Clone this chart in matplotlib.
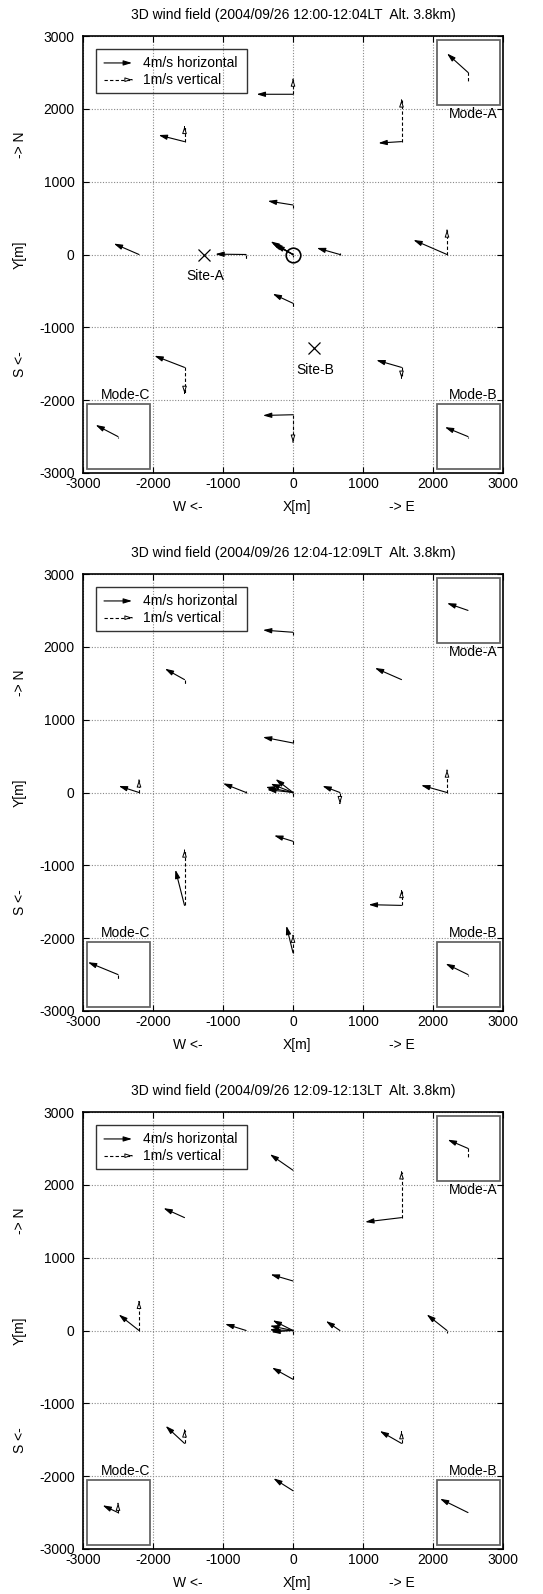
import matplotlib
matplotlib.use('Agg')
import matplotlib.pyplot as plt
from matplotlib.patches import Rectangle
import numpy as np

plt.rcParams['font.family'] = ['Liberation Sans', 'DejaVu Sans']
plt.rcParams['axes.unicode_minus'] = False

# ── Data ──────────────────────────────────────────────────────────────────────
TITLES = [
    '3D wind field (2004/09/26 12:00-12:04LT  Alt. 3.8km)',
    '3D wind field (2004/09/26 12:04-12:09LT  Alt. 3.8km)',
    '3D wind field (2004/09/26 12:09-12:13LT  Alt. 3.8km)',
]

# observation points [m] (centre point carries several arrows)
STN_X = [0, -1550, 1550, 0, -2200, -670, 0, 0, 0, 0, 670, 2200, 0, -1550, 1550, 0]
STN_Y = [2200, 1550, 1550, 680, 0, 0, 0, 0, 0, 0, 0, 0, -670, -1550, -1550, -2200]

# wind components [m/s] for each period
U1 = [-5.2, -3.7, -3.3, -3.6, -3.6, -4.4, -3.2, -3.0, -2.8, -2.5, -3.3, -4.8, -2.9, -4.3, -3.6, -4.3]
V1 = [0.0, 0.9, -0.2, 0.55, 1.5, 0.05, 1.8, 1.6, 1.5, 1.3, 0.9, 2.0, 1.3, 1.6, 1.0, -0.1]
W1 = [0.52, 0.52, 1.43, -0.11, 0.0, -0.14, -0.1, 0.0, 0.0, 0.0, 0.05, 0.84, -0.16, -0.89, -0.37, -0.94]

U2 = [-4.3, -2.8, -3.8, -4.3, -2.9, -3.3, -2.5, -3.2, -3.9, -3.7, -2.5, -3.7, -2.7, -1.3, -4.7, -0.95]
V2 = [0.3, 1.5, 1.6, 0.8, 0.9, 1.25, 1.85, 1.2, 0.75, 0.4, 0.9, 1.0, 0.8, 4.9, 0.1, 3.7]
W2 = [-0.1, -0.17, 0.0, 0.16, 0.43, 0.05, -0.16, 0.0, 0.0, 0.0, -0.38, 0.77, -0.15, 1.9, 0.51, 0.6]

U3 = [-3.3, -3.0, -5.2, -3.2, -2.9, -3.0, -2.9, -3.3, -3.35, -3.1, -2.0, -2.9, -3.0, -2.7, -3.1, -2.8]
V3 = [2.2, 1.3, -0.6, 0.9, 2.2, 0.9, 1.4, 0.65, 0.1, -0.2, 1.3, 2.2, 1.6, 2.4, 1.7, 1.7]
W3 = [0.0, 0.0, 1.57, 0.0, 1.0, 0.0, -0.15, 0.0, 0.0, 0.0, 0.0, -0.1, 0.2, 0.46, 0.4, 0.0]

# mode insets
MODE_NAMES = ['Mode-A', 'Mode-B', 'Mode-C']
MODE_X = [2500, 2500, -2500]
MODE_Y = [2500, -2500, -2500]
MODE_U = [[-3.0, -3.3, -3.2], [-3.0, -3.2, -4.3], [-2.9, -4.0, -2.2]]
MODE_V = [[2.6, 1.3, 1.6], [1.0, 1.5, 1.7], [1.2, 1.9, 1.0]]
MODE_W = [[-0.28, -0.04, -0.05], [0.0, -0.05, -0.15], [-0.29, 0.0, 0.32]]

SITE_NAMES = ['Site-A', 'Site-B']
SITE_X = [-1270, 300]
SITE_Y = [0, -1290]

PANELS = [(U1, V1, W1), (U2, V2, W2), (U3, V3, W3)]

H_SCALE = 100.0   # m of plot per m/s (4 m/s -> 400 m)
V_SCALE = 400.0   # m of plot per m/s (1 m/s -> 400 m)

# ── Helpers ───────────────────────────────────────────────────────────────────
HPROPS = dict(arrowstyle='-|>,head_length=0.5,head_width=0.15', color='black',
              lw=0.8, shrinkA=0, shrinkB=0)
VHEAD = dict(arrowstyle='-|>,head_length=0.4,head_width=0.13', ec='black',
             fc='white', lw=0.7, shrinkA=0, shrinkB=0)
DASH = (0, (3, 2))


def h_arrow(ax, x0, y0, x1, y1):
    ax.annotate('', xy=(x1, y1), xytext=(x0, y0), arrowprops=HPROPS)


def v_arrow(ax, x0, y0, x1, y1, head=True):
    ax.plot([x0, x1], [y0, y1], color='black', lw=0.8, ls=DASH)
    if head:
        d = np.array([x1 - x0, y1 - y0], dtype=float)
        d = d / np.hypot(*d)
        ax.annotate('', xy=(x1, y1), xytext=(x1 - d[0], y1 - d[1]), arrowprops=VHEAD)


def wind(ax, x0, y0, u, v, w):
    h_arrow(ax, x0, y0, x0 + u * H_SCALE, y0 + v * H_SCALE)
    if w != 0:
        dz = w * V_SCALE
        v_arrow(ax, x0, y0, x0, y0 + dz, head=abs(dz) > 125)


# ── Plot ──────────────────────────────────────────────────────────────────────
fig = plt.figure(figsize=(5.43, 15.94), dpi=100)
bottoms = [1 - 473 / 1594, 1 - 1011 / 1594, 1 - 1549 / 1594]

for p, (U, V, W) in enumerate(PANELS):
    ax = fig.add_axes([83 / 543, bottoms[p], 420 / 543, 437 / 1594])
    ax.set_xlim(-3000, 3000)
    ax.set_ylim(-3000, 3000)
    ax.set_xticks(np.arange(-3000, 3001, 1000))
    ax.set_yticks(np.arange(-3000, 3001, 1000))
    ax.grid(True, color='#888888', ls=(0, (1, 1.5)), lw=0.8)
    ax.tick_params(direction='in', length=4, width=0.8, top=True, right=True,
                   labelsize=10, pad=6)
    ax.tick_params(axis='x', pad=3)
    for s in ax.spines.values():
        s.set_linewidth(1.2)
    ax.set_title(TITLES[p], fontsize=10, pad=12)

    # axis annotations
    for xx, txt in zip([-1500, 60, 1550], ['W <-', 'X[m]', '-> E']):
        ax.text(xx, -0.078, txt, transform=ax.get_xaxis_transform(),
                ha='center', va='center', fontsize=10)
    for yy, txt in zip([1500, 0, -1500], ['-> N', 'Y[m]', 'S <-']):
        ax.text(-0.15, yy, txt, transform=ax.get_yaxis_transform(),
                ha='center', va='center', rotation=90, fontsize=10)

    # legend box
    ax.add_patch(Rectangle((-2815, 2220), 2160, 600, fill=False, ec='#333333', lw=1.0))
    h_arrow(ax, -2700, 2630, -2700 + 4 * H_SCALE, 2630)
    v_arrow(ax, -2700, 2400, -2700 + 1 * V_SCALE, 2400)
    ax.text(-2150, 2630, '4m/s horizontal', ha='left', va='center', fontsize=10)
    ax.text(-2150, 2400, '1m/s vertical', ha='left', va='center', fontsize=10)

    # mode insets
    for m in range(3):
        cx, cy = MODE_X[m], MODE_Y[m]
        ax.add_patch(Rectangle((cx - 450, cy - 450), 900, 900, fill=False,
                               ec='#666666', lw=1.3))
        wind(ax, cx, cy, MODE_U[p][m], MODE_V[p][m], MODE_W[p][m])
    ax.text(2920, 1925, MODE_NAMES[0], ha='right', va='center', fontsize=10)
    ax.text(2920, -1925, MODE_NAMES[1], ha='right', va='center', fontsize=10)
    ax.text(-2045, -1925, MODE_NAMES[2], ha='right', va='center', fontsize=10)

    for i in range(len(STN_X)):
        wind(ax, STN_X[i], STN_Y[i], U[i], V[i], W[i])

    if p == 0:
        for name, sx, sy in zip(SITE_NAMES, SITE_X, SITE_Y):
            ax.plot(sx, sy, marker='x', color='black', ms=9, mew=0.9)
            ax.text(sx + 20, sy - 290, name, ha='center', va='center', fontsize=10)
        ax.plot(0, 0, marker='o', mfc='none', mec='black', ms=10.5, mew=1.2)

fig.savefig('out.png', dpi=100)
print("Saved!")
